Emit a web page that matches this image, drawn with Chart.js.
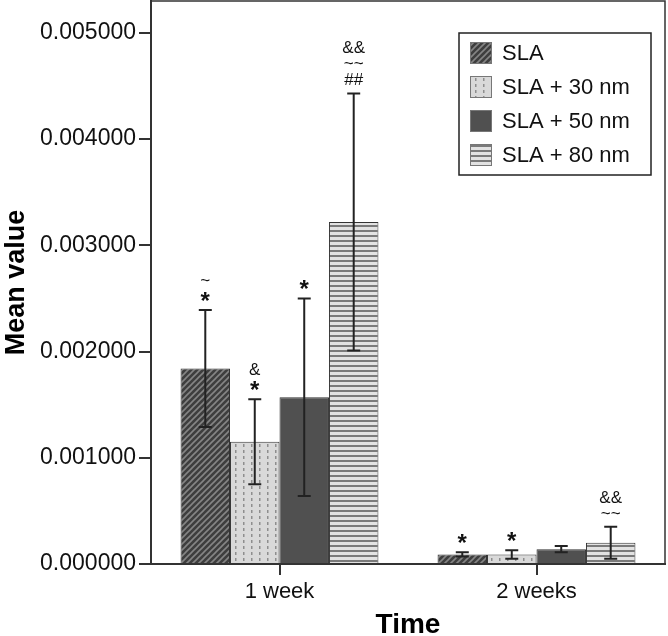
<!DOCTYPE html>
<html>
<head>
<meta charset="utf-8">
<script src="https://cdn.jsdelivr.net/npm/chart.js@4.4.0/dist/chart.umd.min.js"></script>
<style>
  html, body { margin: 0; padding: 0; background: #fff; }
</style>
</head>
<body>
<canvas id="myChart" width="668" height="636"></canvas>
<script>
const timepoints = ['1 week', '2 weeks'];
const seriesNames = ['SLA', 'SLA + 30 nm', 'SLA + 50 nm', 'SLA + 80 nm'];

const slaMean = [0.00184, 0.00009];
const sla30Mean = [0.00115, 0.00009];
const sla50Mean = [0.00157, 0.00014];
const sla80Mean = [0.00322, 0.00020];

const slaErr = [0.00055, 0.00002];
const sla30Err = [0.00040, 0.00004];
const sla50Err = [0.00093, 0.00003];
const sla80Err = [0.00121, 0.00015];

const slaMarks = [['~', '*'], ['*']];
const sla30Marks = [['&', '*'], ['*']];
const sla50Marks = [['*'], []];
const sla80Marks = [['&&', '~~', '##'], ['&&', '~~']];

const yTicks = [0, 0.001, 0.002, 0.003, 0.004, 0.005];

const FONT = "'Liberation Sans', Arial, sans-serif";

// fill patterns, one per series
function makePattern(kind) {
    const c = document.createElement('canvas');
    const ctx = c.getContext('2d');
    if (kind === 'diag') {
        c.width = 6; c.height = 6;
        ctx.fillStyle = '#3e3e3e';
        ctx.fillRect(0, 0, 6, 6);
        ctx.strokeStyle = '#858585';
        ctx.lineWidth = 1.6;
        ctx.beginPath();
        ctx.moveTo(-1, 7); ctx.lineTo(7, -1);
        ctx.moveTo(-4, 4); ctx.lineTo(4, -4);
        ctx.moveTo(2, 10); ctx.lineTo(10, 2);
        ctx.stroke();
    } else if (kind === 'dots') {
        c.width = 8; c.height = 6;
        ctx.fillStyle = '#d9d9d9';
        ctx.fillRect(0, 0, 8, 6);
        ctx.fillStyle = '#8e8e8e';
        ctx.fillRect(3, 0, 1.5, 3);
    } else if (kind === 'hstripe') {
        c.width = 4; c.height = 5;
        ctx.fillStyle = '#e2e2e2';
        ctx.fillRect(0, 0, 4, 5);
        ctx.fillStyle = '#7a7a7a';
        ctx.fillRect(0, 0, 4, 2);
    } else {
        return '#505050';
    }
    return ctx.createPattern(c, 'repeat');
}

const fills = [makePattern('diag'), makePattern('dots'), makePattern('solid'), makePattern('hstripe')];
const means = [slaMean, sla30Mean, sla50Mean, sla80Mean];
const errs = [slaErr, sla30Err, sla50Err, sla80Err];
const marks = [slaMarks, sla30Marks, sla50Marks, sla80Marks];

const datasets = seriesNames.map((name, i) => ({
    label: name,
    data: means[i],
    backgroundColor: fills[i],
    borderColor: '#333',
    borderWidth: 1,
    barPercentage: 1.0,
    categoryPercentage: 0.77
}));

const errorBars = {
    id: 'errorBars',
    afterDatasetsDraw(chart) {
        const ctx = chart.ctx;
        const y = chart.scales.y;
        ctx.save();
        chart.data.datasets.forEach((ds, i) => {
            const meta = chart.getDatasetMeta(i);
            meta.data.forEach((bar, j) => {
                const m = means[i][j], e = errs[i][j];
                const yt = y.getPixelForValue(m + e);
                const yb = y.getPixelForValue(m - e);
                ctx.strokeStyle = '#222';
                ctx.lineWidth = 2;
                ctx.beginPath();
                ctx.moveTo(bar.x, yt); ctx.lineTo(bar.x, yb);
                ctx.moveTo(bar.x - 6.5, yt); ctx.lineTo(bar.x + 6.5, yt);
                ctx.moveTo(bar.x - 6.5, yb); ctx.lineTo(bar.x + 6.5, yb);
                ctx.stroke();

                const lines = marks[i][j] || [];
                ctx.fillStyle = '#111';
                ctx.textAlign = 'center';
                ctx.textBaseline = 'middle';
                const n = lines.length;
                lines.forEach((t, k) => {
                    const cy = yt - 13 - (n - 1 - k) * 16;
                    if (t === '*') {
                        ctx.font = 'bold 24px ' + FONT;
                        ctx.fillText(t, bar.x, cy + 5);
                    } else {
                        ctx.font = '17px ' + FONT;
                        ctx.fillText(t, bar.x, cy);
                    }
                });
            });
        });
        ctx.restore();
    }
};

const frameAndLegend = {
    id: 'frameAndLegend',
    afterDraw(chart) {
        const ctx = chart.ctx;
        const a = chart.chartArea;
        ctx.save();
        ctx.strokeStyle = '#333';
        ctx.lineWidth = 1.5;
        ctx.beginPath();
        ctx.moveTo(a.left, a.top); ctx.lineTo(a.right, a.top); ctx.lineTo(a.right, a.bottom);
        ctx.stroke();

        // legend box
        const lx = 459, ly = 33, lw = 192, lh = 142;
        ctx.fillStyle = '#fff';
        ctx.fillRect(lx, ly, lw, lh);
        ctx.strokeStyle = '#222';
        ctx.lineWidth = 1.5;
        ctx.strokeRect(lx, ly, lw, lh);
        ctx.font = '22px ' + FONT;
        ctx.textAlign = 'left';
        ctx.textBaseline = 'middle';
        seriesNames.forEach((name, i) => {
            const cy = 53 + i * 34;
            ctx.fillStyle = fills[i];
            ctx.fillRect(470, cy - 11, 22, 22);
            ctx.strokeStyle = '#777';
            ctx.lineWidth = 1;
            ctx.strokeRect(470.5, cy - 10.5, 21, 21);
            ctx.fillStyle = '#111';
            ctx.fillText(name, 502, cy + 1);
        });
        ctx.restore();
    }
};

new Chart(document.getElementById('myChart'), {
    type: 'bar',
    data: { labels: timepoints, datasets: datasets },
    options: {
        responsive: false,
        animation: false,
        layout: { padding: { top: 1, right: 3, left: 0, bottom: 0 } },
        plugins: {
            legend: { display: false },
            tooltip: { enabled: false }
        },
        scales: {
            x: {
                offset: true,
                afterFit: s => { s.height = 72; s.paddingLeft = 0; s.paddingRight = 0; },
                grid: { drawOnChartArea: false, offset: false, tickLength: 11, color: '#333', lineWidth: 2 },
                border: { color: '#333', width: 2 },
                ticks: { color: '#111', font: { family: FONT, size: 22 }, padding: 4 },
                title: {
                    display: true, text: 'Time', color: '#000',
                    font: { family: FONT, size: 28, weight: 'bold', lineHeight: 0.75 },
                    padding: { top: 9, bottom: 0 }
                }
            },
            y: {
                min: 0,
                max: 0.0053,
                afterFit: s => { s.width = 151; s.paddingTop = 0; s.paddingBottom = 0; },
                afterBuildTicks: s => { s.ticks = yTicks.map(v => ({ value: v })); },
                grid: { drawOnChartArea: false, tickLength: 12, color: '#333', lineWidth: 2 },
                border: { color: '#333', width: 2 },
                ticks: {
                    color: '#111',
                    font: { family: FONT, size: 23 },
                    padding: 3,
                    callback: v => v.toFixed(6)
                },
                title: {
                    display: true, text: 'Mean value', color: '#000',
                    font: { family: FONT, size: 27, weight: 'bold' },
                    padding: { top: 0, bottom: 0 }
                }
            }
        }
    },
    plugins: [errorBars, frameAndLegend]
});
</script>
</body>
</html>
